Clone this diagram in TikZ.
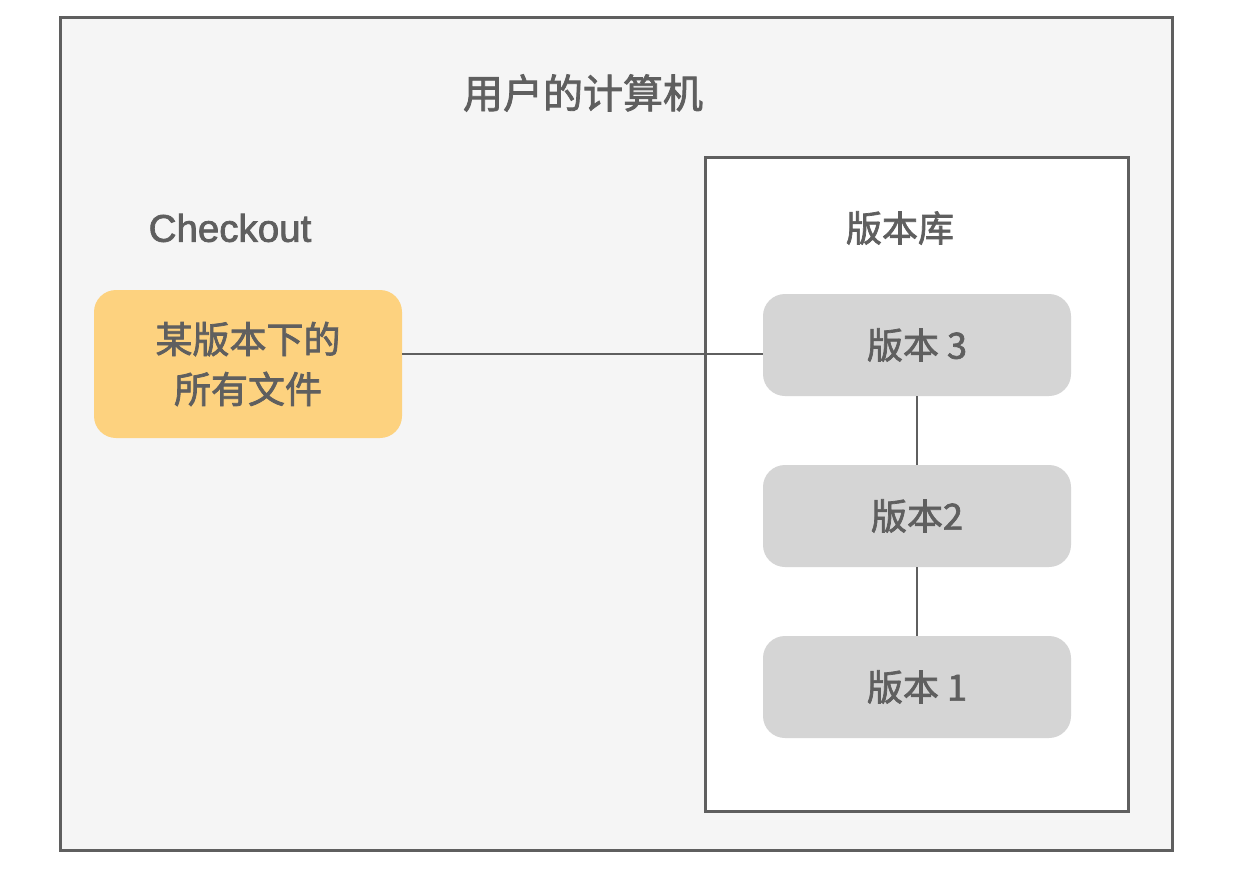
\documentclass[tikz,border=0pt]{standalone}
\usepackage{fontspec}
\setmainfont{Liberation Sans}[UprightFeatures={FakeBold=2}]
\newfontfamily\cjk{Noto Sans CJK SC}[UprightFeatures={FakeBold=2}]
\definecolor{edgegray}{HTML}{5F5F5F}
\definecolor{txtgray}{HTML}{5F5F5F}
\definecolor{bggray}{HTML}{F5F5F5}
\definecolor{orangefill}{HTML}{FDD27F}
\definecolor{verfill}{HTML}{D5D5D5}
\begin{document}
\begin{tikzpicture}[x=1pt,y=-1pt,
  frame/.style={draw=edgegray,line width=3pt,inner sep=0pt},
  verbox/.style={fill=verfill,rounded corners=22pt,minimum width=308pt,minimum height=102pt,inner sep=0pt,text=txtgray,font=\cjk\fontsize{36}{44}\selectfont},
  label/.style={text=txtgray,inner sep=0pt},
  link/.style={draw=edgegray,line width=2.8pt}]
\useasboundingbox (0,0) rectangle (1242,870);
\fill[white] (0,0) rectangle (1242,870);
\node[frame,fill=bggray,minimum width=1112pt,minimum height=833pt] (outer) at (616,433.5) {};
\node[label,font=\cjk\fontsize{40}{48}\selectfont] (title) at (583,93) {用户的计算机};
\node[frame,fill=white,minimum width=423pt,minimum height=654pt] (repo) at (916.5,484) {};
\node[label,font=\cjk\fontsize{36}{44}\selectfont] (repolabel) at (900,228) {版本库};
\node[label,font=\fontsize{38.5}{44}\selectfont] (checkout) at (230,228) {Checkout};
\node[fill=orangefill,rounded corners=22pt,minimum width=308pt,minimum height=148pt,inner sep=0pt,text=txtgray,align=center,font=\cjk\fontsize{37}{50}\selectfont] (files) at (248,364) {某版本下的\\所有文件};
\node[verbox] (v3) at (917,345) {版本 3};
\node[verbox] (v2) at (917,516) {版本2};
\node[verbox] (v1) at (917,687) {版本 1};
\coordinate (v3in) at ([yshift=-9pt]v3.west);
\draw[link] (files.east |- v3in) -- (v3in);
\draw[link] (v3.south) -- (v2.north);
\draw[link] (v2.south) -- (v1.north);
\end{tikzpicture}
\end{document}
